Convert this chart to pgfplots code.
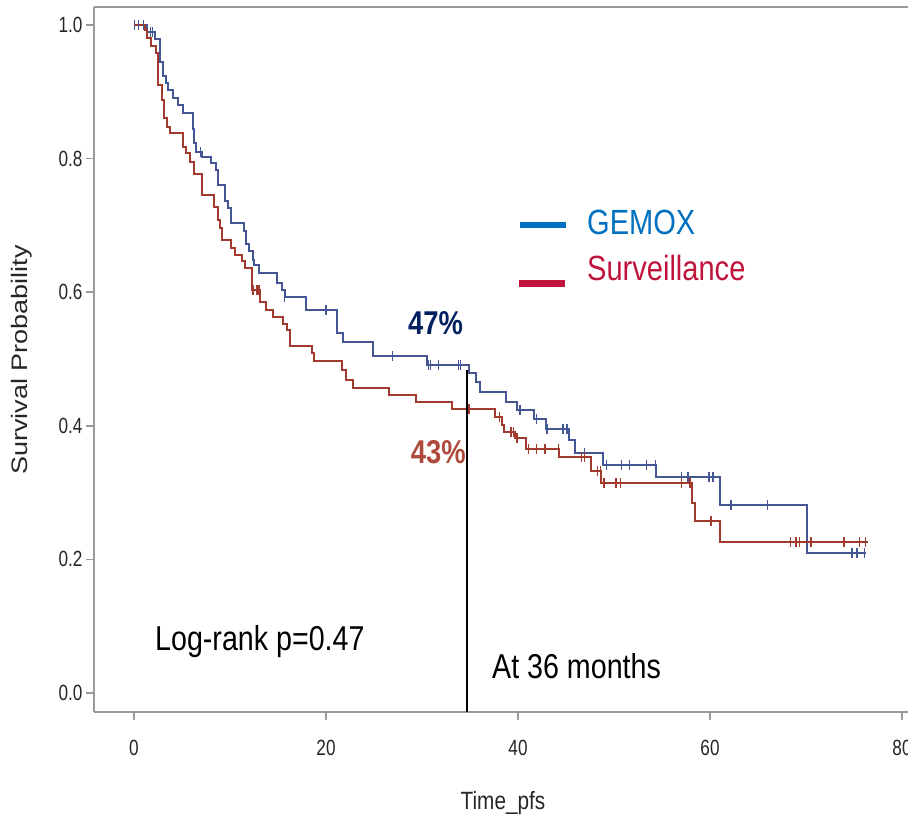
\documentclass[border=0pt]{standalone}
\usepackage{pgfplots}
\pgfplotsset{compat=1.18}
\usepackage{graphicx}
\usepackage{fontspec}
\setmainfont{Liberation Sans}
\newfontfamily\nar[FakeStretch=0.83]{Liberation Sans}
\newfontfamily\tck[FakeStretch=0.78]{Liberation Sans}

\definecolor{gemoxline}{HTML}{445694}
\definecolor{survline}{HTML}{A23A2E}
\definecolor{gemoxkey}{HTML}{0070C0}
\definecolor{survkey}{HTML}{C0143C}
\definecolor{navy}{HTML}{002060}
\definecolor{rust}{HTML}{AE4A3C}
\definecolor{framegray}{HTML}{9A9A9A}

\begin{document}
\begin{tikzpicture}[x=1pt,y=1pt]
\useasboundingbox (0,0) rectangle (908,819);
\begin{axis}[
  at={(94pt,107pt)}, anchor=south west,
  scale only axis, width=814pt, height=705pt,
  xmin=-4.167, xmax=80.625, ymin=-0.0284, ymax=1.0269,
  axis x line*=bottom, axis y line*=left,
  axis line style={framegray, line width=2pt},
  xtick={0,20,40,60,80}, ytick={0,0.2,0.4,0.6,0.8,1.0},
  tick align=outside, major tick length=8pt,
  tick style={framegray, line width=1.5pt},
  /pgf/number format/assume math mode=true,
  yticklabel style={/pgf/number format/fixed, /pgf/number format/fixed zerofill, /pgf/number format/precision=1},
  xticklabel style={yshift=-17pt},
  ticklabel style={font=\tck\fontsize{22}{22}\selectfont, black!85},
  clip=false,
]
% GEMOX arm
\addplot[const plot, gemoxline, line width=2pt] coordinates {
(0,1.000) (1.39,0.990) (2.2,0.979) (2.7,0.945) (3.05,0.923) (3.33,0.913)
(3.57,0.903) (4.03,0.890) (4.6,0.880) (5.07,0.868) (6.1,0.845) (6.25,0.823)
(6.5,0.810) (7.05,0.803) (7.98,0.793) (8.54,0.783) (8.8,0.760) (9.48,0.737)
(9.8,0.726) (10.07,0.704) (11.46,0.691) (11.67,0.672) (12.0,0.661) (12.36,0.648)
(12.5,0.641) (13.05,0.628) (14.86,0.614) (15.39,0.604) (15.73,0.593) (17.9,0.574)
(21.1,0.539) (21.8,0.526) (24.9,0.504) (30.5,0.491) (34.9,0.479) (35.6,0.466)
(36.0,0.450) (38.8,0.436) (39.9,0.423) (41.7,0.410) (42.9,0.395) (45.3,0.379)
(45.9,0.360) (48.9,0.342) (54.4,0.323) (61.0,0.282) (70.1,0.209) (76.3,0.209)
};
\addplot[only marks, mark=|, mark size=5pt, gemoxline, line width=1.4pt] coordinates {
(0.05,1.0) (0.45,1.0) (1.0,1.0) (1.74,0.990) (1.94,0.990) (6.9,0.810)
(15.7,0.593) (20.0,0.574) (26.9,0.504) (30.7,0.491) (30.9,0.491) (31.7,0.491)
(33.8,0.491) (34.0,0.491) (40.2,0.423) (41.9,0.410) (43.0,0.395) (44.7,0.395)
(45.1,0.395) (46.9,0.360) (49.2,0.342) (50.8,0.342) (51.6,0.342) (53.4,0.342)
(54.3,0.342) (57.05,0.323) (57.7,0.323) (59.9,0.323) (60.3,0.323) (62.2,0.282)
(66.0,0.282) (74.8,0.209) (75.3,0.209) (76.1,0.209)
};
% Surveillance arm
\addplot[const plot, survline, line width=2pt] coordinates {
(0,1.000) (1.15,0.993) (1.32,0.980) (1.74,0.968) (2.29,0.958) (2.53,0.910)
(2.88,0.888) (3.1,0.860) (3.4,0.848) (3.8,0.838) (5.14,0.818) (5.4,0.808)
(5.8,0.795) (6.25,0.777) (7.05,0.746) (8.33,0.728) (8.7,0.708) (8.96,0.696)
(9.13,0.678) (10.07,0.666) (10.5,0.656) (11.2,0.646) (11.56,0.636) (12.26,0.603)
(13.1,0.586) (13.75,0.573) (14.5,0.563) (15.55,0.553) (15.97,0.543) (16.3,0.519)
(18.5,0.509) (18.7,0.497) (21.7,0.484) (22.1,0.468) (22.8,0.456) (26.6,0.446)
(29.4,0.436) (33.1,0.425) (37.6,0.413) (38.3,0.401) (38.5,0.391) (39.7,0.381)
(40.8,0.365) (44.3,0.353) (47.6,0.333) (48.6,0.315) (58.1,0.285) (58.4,0.257)
(61.0,0.226) (76.5,0.226)
};
\addplot[only marks, mark=|, mark size=5pt, survline, line width=1.4pt] coordinates {
(12.4,0.603) (12.8,0.603) (13.0,0.603) (34.9,0.425) (38.1,0.413) (39.2,0.391)
(39.3,0.391) (39.5,0.391) (39.9,0.381) (41.1,0.365) (41.9,0.365) (42.8,0.365)
(44.2,0.365) (46.6,0.353) (46.9,0.353) (48.3,0.333) (48.6,0.333) (48.96,0.315)
(50.2,0.315) (50.7,0.315) (57.05,0.315) (57.9,0.315) (60.1,0.257) (68.4,0.226)
(68.96,0.226) (69.3,0.226) (70.5,0.226) (73.96,0.226) (75.6,0.226) (76.2,0.226)
};
% 36-month reference line
\addplot[black, line width=2pt] coordinates {(34.7,0.4835) (34.7,-0.0284)};
% top border of the frame
\draw[framegray, line width=2pt] (rel axis cs:0,1) -- (rel axis cs:1,1);
\end{axis}
% legend
\draw[gemoxkey, line width=6pt] (520,594) -- (566,594);
\draw[survkey, line width=7pt] (519,535) -- (565,535);
\node[anchor=base west, inner sep=0pt, text=gemoxkey, font=\nar\fontsize{35}{35}\selectfont] at (587,584) {GEMOX};
\node[anchor=base west, inner sep=0pt, text=survkey, font=\nar\fontsize{35}{35}\selectfont] at (587,538) {Surveillance};
% annotations
\node[anchor=base west, inner sep=0pt, text=navy, font=\nar\bfseries\fontsize{33}{33}\selectfont] at (408,484) {47\%};
\node[anchor=base west, inner sep=0pt, text=rust, font=\nar\bfseries\fontsize{33}{33}\selectfont] at (410.7,355.7) {43\%};
\node[anchor=base west, inner sep=0pt, font=\nar\fontsize{34.5}{34.5}\selectfont] at (155,168.3) {Log-rank p=0.47};
\node[anchor=base west, inner sep=0pt, font=\nar\fontsize{34.5}{34.5}\selectfont] at (492,140) {At 36 months};
% axis titles
\node[anchor=base, inner sep=0pt, text=black!85, font=\nar\fontsize{25}{25}\selectfont] at (503,9) {Time\_pfs};
\node[rotate=90, inner sep=0pt, text=black!85, font=\fontsize{27}{27}\selectfont] at (22,459) {\scalebox{1}[0.83]{Survival Probability}};
\end{tikzpicture}
\end{document}
